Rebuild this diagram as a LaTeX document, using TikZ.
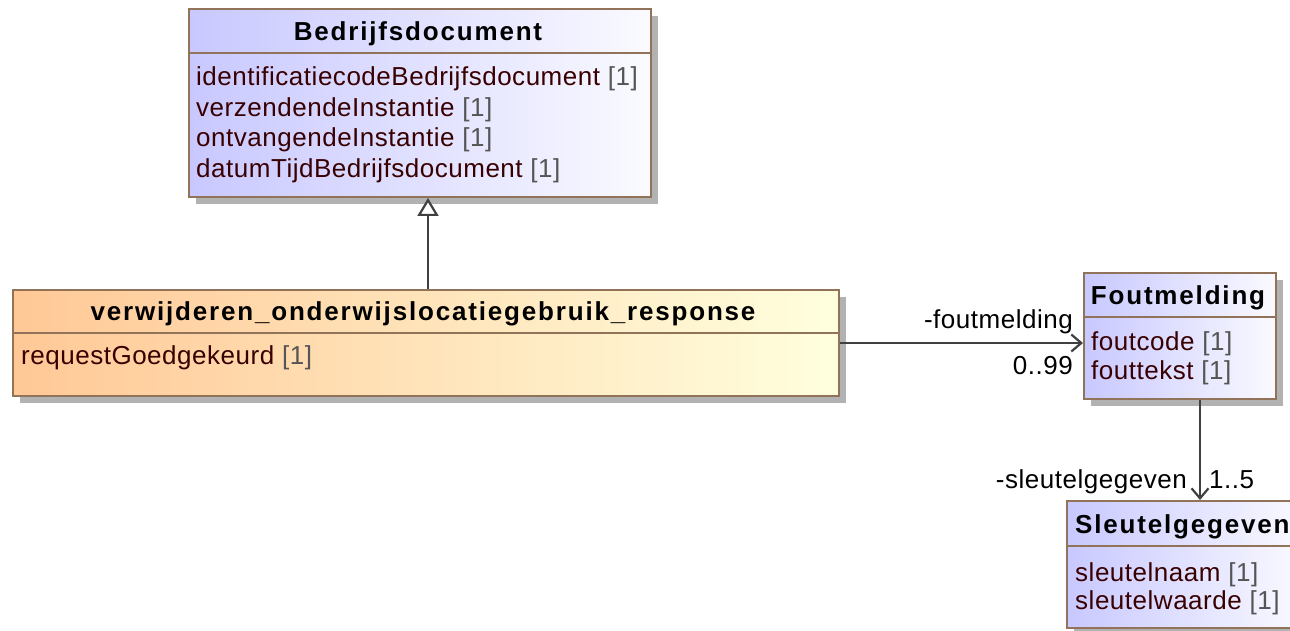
\documentclass[tikz,border=0pt]{standalone}
\usepackage{fontspec}
\setmainfont{Liberation Sans}[LetterSpace=2]
\newfontfamily\titlefont{Liberation Sans}[LetterSpace=7]
\usetikzlibrary{shadows,arrows.meta}
\definecolor{bordercol}{RGB}{145,115,90}
\definecolor{hdrblue}{RGB}{200,200,255}
\definecolor{lightblue}{RGB}{250,250,255}
\definecolor{orangeL}{RGB}{255,200,150}
\definecolor{yellowR}{RGB}{255,255,222}
\definecolor{attrcol}{RGB}{56,0,0}
\definecolor{multcol}{RGB}{85,85,85}
\definecolor{linecol}{RGB}{64,64,64}
\newcommand{\mlt}[1]{\textcolor{multcol}{#1}}
\tikzset{
  classbox/.style={draw=bordercol, line width=2pt, inner sep=0pt, anchor=north west,
    drop shadow={shadow xshift=7pt, shadow yshift=-7pt, fill=black!30, opacity=1}},
  bluebox/.style={classbox, left color=hdrblue, right color=lightblue},
  orangebox/.style={classbox, left color=orangeL, right color=yellowR},
  sepline/.style={draw=bordercol, line width=2pt},
  titletext/.style={font=\titlefont\bfseries\fontsize{26}{30}\selectfont, text=black, inner sep=0pt, anchor=base},
  attrtext/.style={font=\fontsize{26}{30}\selectfont, text=attrcol, inner sep=0pt, anchor=base west},
  lbl/.style={font=\fontsize{26}{30}\selectfont, text=black, inner sep=0pt},
  assoc/.style={draw=linecol, line width=2.2pt, -{Straight Barb[length=10pt,width=17pt]}},
  gen/.style={draw=linecol, line width=2.2pt, -{Triangle[open,length=18pt,width=21pt,fill=white]}}
}
\begin{document}
\begin{tikzpicture}[x=1pt,y=-1pt]
\useasboundingbox[fill=white] (0,0) rectangle (1290,631);

% class boxes
\node[bluebox, minimum width=462pt, minimum height=188pt] (bd) at (188,8) {};
\node[orangebox, minimum width=826pt, minimum height=106pt] (main) at (12,289) {};
\node[bluebox, minimum width=192pt, minimum height=126pt] (fout) at (1083,272) {};
\node[bluebox, minimum width=236pt, minimum height=127pt] (sleutel) at (1066,500) {};

% header separators
\draw[sepline] ([yshift=-45pt]bd.north west) -- ([yshift=-45pt]bd.north east);
\draw[sepline] ([yshift=-44pt]main.north west) -- ([yshift=-44pt]main.north east);
\draw[sepline] ([yshift=-45pt]fout.north west) -- ([yshift=-45pt]fout.north east);
\draw[sepline] ([yshift=-46pt]sleutel.north west) -- ([yshift=-46pt]sleutel.north east);

% Bedrijfsdocument
\node[titletext] (bdT) at (418,41) {Bedrijfsdocument};
\node[attrtext] (bdA1) at (196,86) {identificatiecodeBedrijfsdocument \mlt{[1]}};
\node[attrtext] (bdA2) at (196,117) {verzendendeInstantie \mlt{[1]}};
\node[attrtext] (bdA3) at (196,147) {ontvangendeInstantie \mlt{[1]}};
\node[attrtext] (bdA4) at (196,178) {datumTijdBedrijfsdocument \mlt{[1]}};

% main class
\node[titletext] (mainT) at (423,320) {verwijderen\_onderwijslocatiegebruik\_response};
\node[attrtext] (mainA1) at (21,364) {requestGoedgekeurd \mlt{[1]}};

% Foutmelding
\node[titletext] (foutT) at (1178,304) {Foutmelding};
\node[attrtext] (foutA1) at (1091,350) {foutcode \mlt{[1]}};
\node[attrtext] (foutA2) at (1091,379) {fouttekst \mlt{[1]}};

% Sleutelgegeven
\node[titletext, anchor=base west] (sleT) at (1075,533) {Sleutelgegeven};
\node[attrtext] (sleA1) at (1075,581) {sleutelnaam \mlt{[1]}};
\node[attrtext] (sleA2) at (1075,609) {sleutelwaarde \mlt{[1]}};

% connectors
\draw[gen] ([xshift=2pt]main.north) -- ([xshift=2pt]main.north |- bd.south);
\draw[assoc] (main.east) -- (main.east -| fout.west);
\draw[assoc] ([xshift=20pt]fout.south) -- ([xshift=20pt]fout.south |- sleutel.north);

% association labels
\node[lbl, anchor=base east] (l1) at (1073,328) {-foutmelding};
\node[lbl, anchor=base east] (l2) at (1073,374) {0..99};
\node[lbl, anchor=base east] (l3) at (1187,488) {-sleutelgegeven};
\node[lbl, anchor=base west] (l4) at (1209,488) {1..5};
\end{tikzpicture}
\end{document}
